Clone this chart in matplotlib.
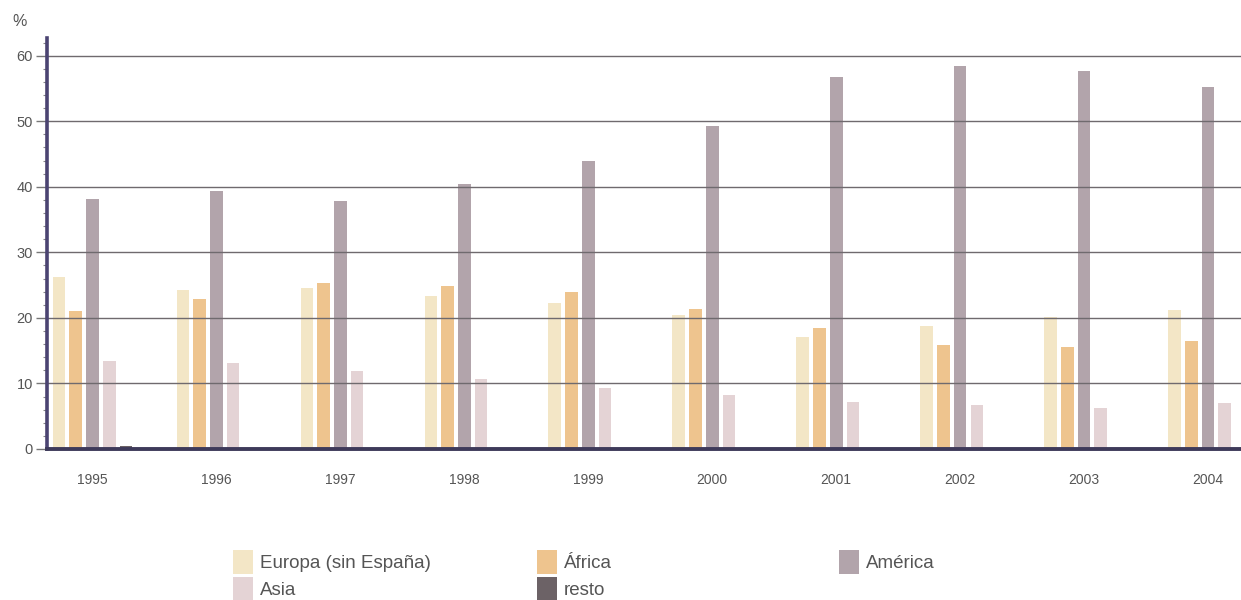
import matplotlib
matplotlib.use("Agg")
import matplotlib.pyplot as plt
import numpy as np
from matplotlib.patches import Patch
from matplotlib.ticker import MultipleLocator

years = ["1995", "1996", "1997", "1998", "1999", "2000", "2001", "2002", "2003", "2004"]
europa = [26.3, 24.2, 24.5, 23.4, 22.2, 20.5, 17.1, 18.7, 20.2, 21.2]
africa = [21.1, 22.9, 25.3, 24.9, 24.0, 21.3, 18.4, 15.9, 15.6, 16.4]
america = [38.1, 39.3, 37.9, 40.4, 44.0, 49.3, 56.8, 58.4, 57.6, 55.2]
asia = [13.4, 13.1, 11.9, 10.7, 9.3, 8.3, 7.1, 6.7, 6.3, 7.0]
resto = [0.4, 0.2, 0.2, 0.2, 0.2, 0.2, 0.2, 0.2, 0.2, 0.2]

series_names = ["Europa (sin España)", "África", "América", "Asia", "resto"]
series_vals = [europa, africa, america, asia, resto]
colors = ["#f3e6c6", "#eec48e", "#b2a4ab", "#e4d3d5", "#6c6266"]

plt.rcParams['font.family'] = ['Liberation Sans', 'DejaVu Sans']

fig = plt.figure(figsize=(12.41, 6.0), dpi=100)
ax = fig.add_axes([47 / 1241, 1 - 449 / 600, 1 - 47 / 1241, (449 - 38) / 600])

x = np.arange(len(years))
step = 0.135
width = 0.102
for i, (vals, col) in enumerate(zip(series_vals, colors)):
    ax.bar(x + (i - 2) * step, vals, width=width, color=col, zorder=2)

ax.set_xlim(-0.367, len(years) - 1 + 0.266)
ax.set_ylim(0, 62.7)
ax.set_yticks([0, 10, 20, 30, 40, 50, 60])
ax.yaxis.set_minor_locator(MultipleLocator(2))
ax.set_xticks(x)
ax.set_xticklabels(years)

ax.grid(axis='y', color='#6f6a6e', linewidth=1.0, zorder=3)
ax.set_axisbelow(False)
for s in ['top', 'right']:
    ax.spines[s].set_visible(False)
ax.spines['left'].set_color('#4b4472')
ax.spines['left'].set_linewidth(2.6)
ax.spines['bottom'].set_color('#3e3a5a')
ax.spines['bottom'].set_linewidth(2.8)
ax.spines['left'].set_zorder(4)
ax.spines['bottom'].set_zorder(4)

ax.tick_params(axis='y', which='major', length=8, width=1, color='#777777',
               labelsize=10.5, labelcolor='#555555', pad=2)
ax.tick_params(axis='y', which='minor', length=3, width=0.8, color='#888888')
ax.tick_params(axis='x', length=0, labelsize=10, labelcolor='#555555', pad=17.5)

fig.text(12 / 1241, 1 - 22 / 600, "%", fontsize=11.5, color='#555555', va='center', ha='left')

# legend: three columns
handles = [Patch(facecolor=c, edgecolor='none') for c in colors]
legend_cols = [
    ([handles[0], handles[3]], [series_names[0], series_names[3]], 233),
    ([handles[1], handles[4]], [series_names[1], series_names[4]], 537),
    ([handles[2]], [series_names[2]], 839),
]
for hs, ls, xpix in legend_cols:
    leg = fig.legend(hs, ls, loc='upper left',
                     bbox_to_anchor=(xpix / 1241, 1 - 550 / 600),
                     frameon=False, fontsize=13.5, handlelength=1.07,
                     handleheight=1.6, handletextpad=0.37, labelspacing=0.16,
                     borderpad=0, borderaxespad=0)
    for t in leg.get_texts():
        t.set_color('#555555')

fig.savefig("out.png", dpi=100)
